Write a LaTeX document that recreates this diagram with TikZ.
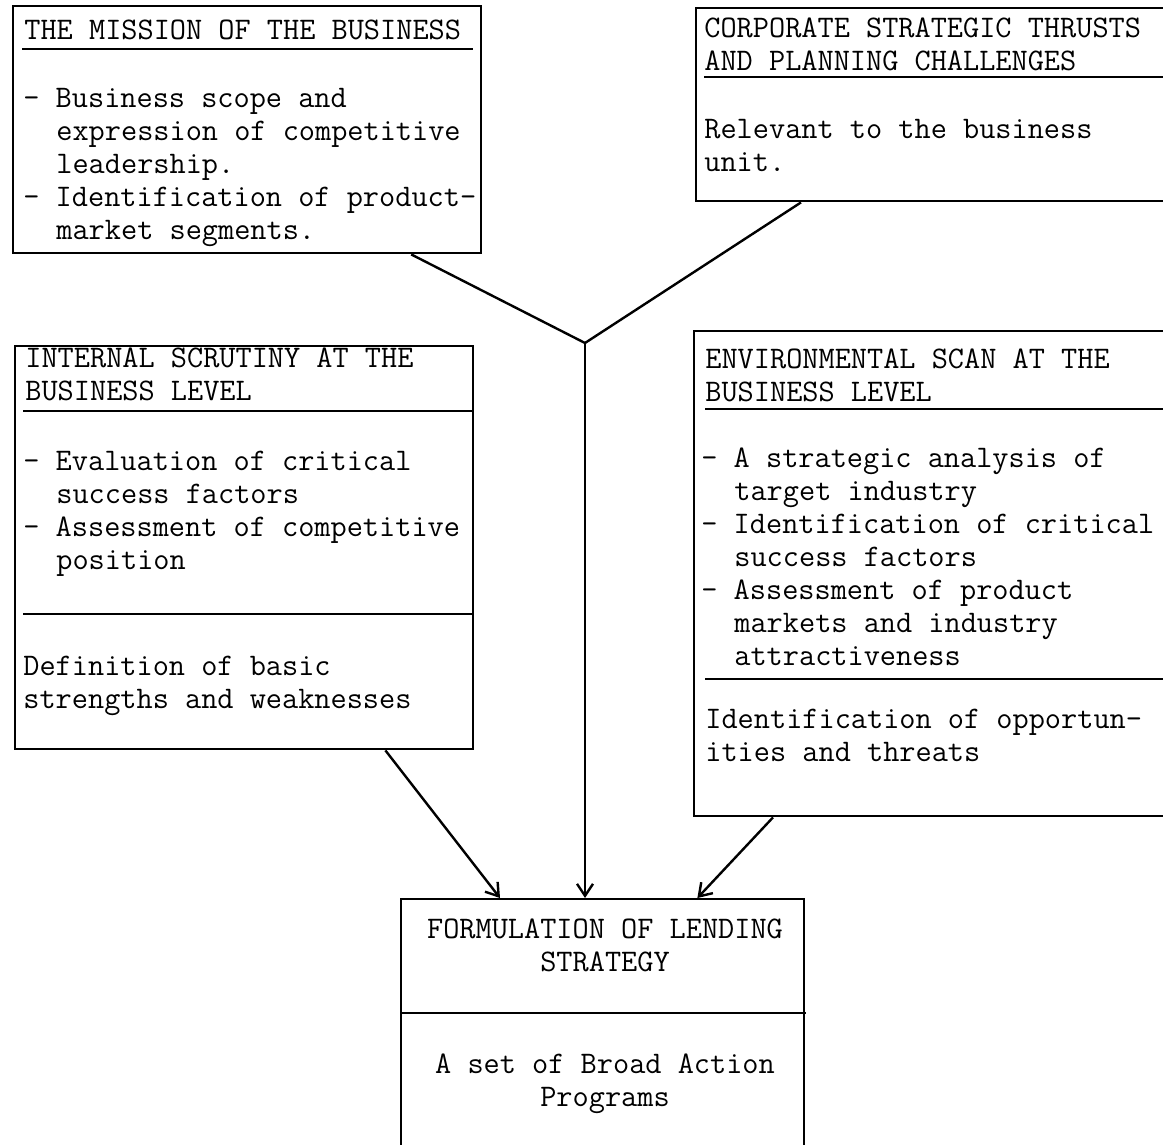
\documentclass[tikz,border=0pt]{standalone}
\usepackage{fontspec}
\usetikzlibrary{arrows.meta, positioning}

\tikzset{
  panel/.style={draw, line width=1.2pt, rectangle, inner sep=0pt, anchor=north west},
  body/.style={inner sep=0pt, anchor=north west, align=left,
               font=\ttfamily\fontsize{15.7pt}{16.5pt}\selectfont\addfontfeatures{FakeBold=1.3}},
  rule/.style={line width=1.1pt},
  flow/.style={line width=1.2pt},
  feed/.style={-{Straight Barb[length=6pt,width=8pt]}}
}
\newcommand{\ind}{\hspace*{16.5pt}}

\begin{document}
\begin{tikzpicture}[x=0.5pt, y=-0.5pt]

        \useasboundingbox (0,0) rectangle (1163,1145);
        \clip (0,0) rectangle (1163,1145);

        % Draw the boxes
        \node[panel, minimum width=234pt,   minimum height=123.5pt] at (12,5)    (mission)   {};
        \node[panel, minimum width=252.5pt, minimum height=96.5pt]  at (695,7)   (corporate) {};
        \node[panel, minimum width=229pt,   minimum height=201.5pt] at (14,345)  (internal)  {};
        \node[panel, minimum width=253.5pt, minimum height=242.5pt] at (693,330) (env)       {};
        \node[panel, minimum width=201.5pt, minimum height=151pt]   at (400,898) (lending)   {};

        % Rules inside the boxes
        \draw[rule] (22,49)   -- (473,49);
        \draw[rule] (704,77)  -- (1200,77);
        \draw[rule] (23,411)  -- (472,411);
        \draw[rule] (23,614)  -- (472,614);
        \draw[rule] (705,409) -- (1200,409);
        \draw[rule] (705,679) -- (1200,679);
        \draw[rule] (400,1013) -- (806,1013);

        % Texts
        \node[body] at (24,16) (missiontitle) {\strut THE MISSION OF THE BUSINESS};
        \node[body] at (23,84) (missionbody)
            {\strut - Business scope and\\
             \ind expression of competitive\\
             \ind leadership.\\
             - Identification of product-\\
             \ind market segments.};

        \node[body] at (704,14) (corporatetitle)
            {\strut CORPORATE STRATEGIC THRUSTS\\AND PLANNING CHALLENGES};
        \node[body] at (704,115) (corporatebody)
            {\strut Relevant to the business\\unit.};

        \node[body] at (25,344) (internaltitle)
            {\strut INTERNAL SCRUTINY AT THE\\BUSINESS LEVEL};
        \node[body] at (23,447) (internalbody)
            {\strut - Evaluation of critical\\
             \ind success factors\\
             - Assessment of competitive\\
             \ind position};
        \node[body] at (23,652) (internalresult)
            {\strut Definition of basic\\strengths and weaknesses};

        \node[body] at (705,345) (envtitle)
            {\strut ENVIRONMENTAL SCAN AT THE\\BUSINESS LEVEL};
        \node[body] at (701,444) (envbody)
            {\strut - A strategic analysis of\\
             \ind target industry\\
             - Identification of critical\\
             \ind success factors\\
             - Assessment of product\\
             \ind markets and industry\\
             \ind attractiveness};
        \node[body] at (705,705) (envresult)
            {\strut Identification of opportun-\\ities and threats};

        \node[body, anchor=north, align=center] at (605,915) (lendingtitle)
            {\strut FORMULATION OF LENDING\\STRATEGY};
        \node[body, anchor=north, align=center] at (605,1050) (lendingbody)
            {\strut A set of Broad Action\\Programs};

        % Connect the boxes with arrows
        \coordinate (join) at (585,343);
        \draw[flow]
            ([xshift=82pt]mission.south)        edge             (join)
            ([xshift=53pt]corporate.south west) edge             (join)
            (join)                              edge[feed]       (join |- lending.north)
            ([xshift=-44.5pt]internal.south east) edge[feed]     ([xshift=50pt]lending.north west)
            ([xshift=40pt]env.south west)       edge[feed]       ([xshift=-54pt]lending.north east);
    \end{tikzpicture}
\end{document}
